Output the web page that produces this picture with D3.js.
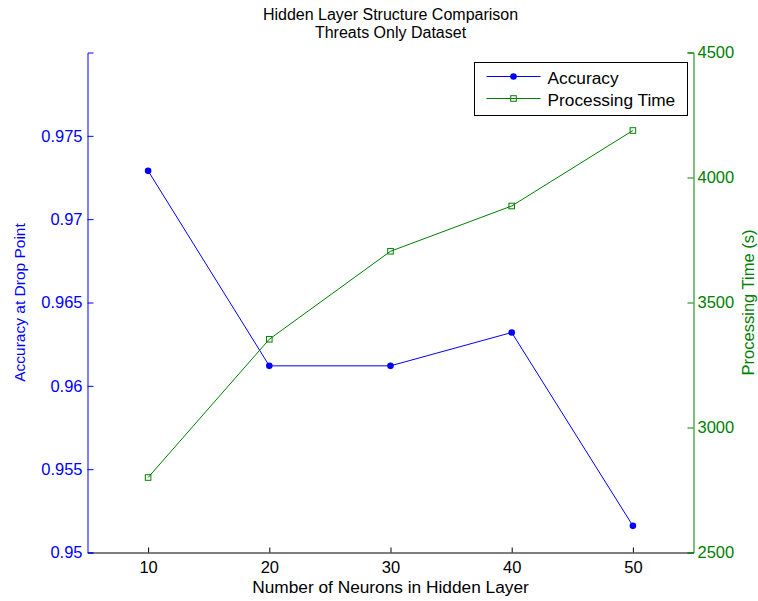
<!DOCTYPE html>
<html>
<head>
<meta charset="utf-8">
<script src="https://cdn.jsdelivr.net/npm/d3@7"></script>
<style>
  html, body { margin: 0; padding: 0; background: #fff; }
  svg { display: block; font-family: "Liberation Sans", Arial, sans-serif; }
</style>
</head>
<body>
<svg id="chart" width="758" height="601"></svg>
<script>
// Hidden layer sizes tested
const neurons = [10, 20, 30, 40, 50];
// Accuracy at the drop point for each hidden layer size
const accuracy = [0.9729, 0.9612, 0.9612, 0.9632, 0.9516];
// Processing time in seconds for each hidden layer size
const procTime = [2800, 3353, 3705, 3886, 4188];

const xTicks = [10, 20, 30, 40, 50];
const accTicks = [0.95, 0.955, 0.96, 0.965, 0.97, 0.975];
const accTickLabels = ["0.95", "0.955", "0.96", "0.965", "0.97", "0.975"];
const timeTicks = [2500, 3000, 3500, 4000, 4500];

const titleLines = ["Hidden Layer Structure Comparison", "Threats Only Dataset"];
const xLabel = "Number of Neurons in Hidden Layer";
const yLeftLabel = "Accuracy at Drop Point";
const yRightLabel = "Processing Time (s)";
const legendLabels = ["Accuracy", "Processing Time"];

const BLUE = "#0000ff", GREEN = "#008000";
const plot = { left: 87.5, right: 693.5, top: 52.5, bottom: 552.5 };

const svg = d3.select("#chart");

const x = d3.scaleLinear().domain([5, 55]).range([plot.left, plot.right]);
const yAcc = d3.scaleLinear().domain([0.95, 0.98]).range([plot.bottom, plot.top]);
const yTime = d3.scaleLinear().domain([2500, 4500]).range([plot.bottom, plot.top]);

// Bottom axis (black, ticks pointing up into the plot)
const gx = svg.append("g")
  .attr("transform", `translate(0,${plot.bottom})`)
  .call(d3.axisBottom(x).tickValues(xTicks).tickFormat(d3.format("d"))
    .tickSizeInner(-5).tickSizeOuter(0).tickPadding(9));
gx.select(".domain").attr("stroke", "#000");
gx.selectAll(".tick line").attr("stroke", "#000");
gx.selectAll("text").attr("fill", "#000").style("font-size", "16.5px");

// Left axis (blue)
const gl = svg.append("g")
  .attr("transform", `translate(${plot.left},0)`)
  .call(d3.axisLeft(yAcc).tickValues(accTicks)
    .tickFormat((d, i) => accTickLabels[i])
    .tickSizeInner(-6).tickSizeOuter(-6).tickPadding(5));
gl.select(".domain").attr("stroke", BLUE);
gl.selectAll(".tick line").attr("stroke", BLUE);
gl.selectAll("text").attr("fill", BLUE).style("font-size", "16.5px");

// Right axis (green)
const gr = svg.append("g")
  .attr("transform", `translate(${plot.right},0)`)
  .call(d3.axisRight(yTime).tickValues(timeTicks).tickFormat(d3.format("d"))
    .tickSizeInner(-6).tickSizeOuter(-6).tickPadding(4));
gr.select(".domain").attr("stroke", GREEN);
gr.selectAll(".tick line").attr("stroke", GREEN);
gr.selectAll("text").attr("fill", GREEN).style("font-size", "16.5px");

// Title, two lines
svg.append("g").selectAll("text").data(titleLines).join("text")
  .attr("x", (plot.left + plot.right) / 2)
  .attr("y", (d, i) => i === 0 ? 20 : 38)
  .attr("text-anchor", "middle").style("font-size", "16px").attr("fill", "#000")
  .text(d => d);

// Axis labels
svg.append("text")
  .attr("x", (plot.left + plot.right) / 2).attr("y", 593)
  .attr("text-anchor", "middle").style("font-size", "17.3px").attr("fill", "#000")
  .text(xLabel);

svg.append("text")
  .attr("transform", `translate(25,${(plot.top + plot.bottom) / 2}) rotate(-90)`)
  .attr("text-anchor", "middle").style("font-size", "15.5px").attr("fill", BLUE)
  .text(yLeftLabel);

svg.append("text")
  .attr("transform", `translate(754,${(plot.top + plot.bottom) / 2}) rotate(-90)`)
  .attr("text-anchor", "middle").style("font-size", "16.5px").attr("fill", GREEN)
  .text(yRightLabel);

// Series lines
const accData = neurons.map((n, i) => [n, accuracy[i]]);
const timeData = neurons.map((n, i) => [n, procTime[i]]);

svg.append("path").datum(accData)
  .attr("fill", "none").attr("stroke", BLUE).attr("stroke-width", 1)
  .attr("d", d3.line().x(d => x(d[0])).y(d => yAcc(d[1])));
svg.selectAll(".acc-dot").data(accData).join("circle")
  .attr("class", "acc-dot")
  .attr("cx", d => x(d[0])).attr("cy", d => yAcc(d[1])).attr("r", 3.3)
  .attr("fill", BLUE);

svg.append("path").datum(timeData)
  .attr("fill", "none").attr("stroke", GREEN).attr("stroke-width", 1)
  .attr("d", d3.line().x(d => x(d[0])).y(d => yTime(d[1])));
svg.selectAll(".time-sq").data(timeData).join("rect")
  .attr("class", "time-sq")
  .attr("x", d => x(d[0]) - 2.8).attr("y", d => yTime(d[1]) - 2.8)
  .attr("width", 5.6).attr("height", 5.6)
  .attr("fill", "none").attr("stroke", GREEN).attr("stroke-width", 1);

// Legend
const lg = svg.append("g").attr("transform", "translate(474.5,62.5)");
lg.append("rect").attr("width", 213).attr("height", 53)
  .attr("fill", "#fff").attr("stroke", "#000").attr("stroke-width", 1);
const legendItems = [
  { label: legendLabels[0], color: BLUE, marker: "circle", y: 14 },
  { label: legendLabels[1], color: GREEN, marker: "square", y: 36 }
];
legendItems.forEach(it => {
  lg.append("line").attr("x1", 12).attr("x2", 66).attr("y1", it.y).attr("y2", it.y)
    .attr("stroke", it.color).attr("stroke-width", 1);
  if (it.marker === "circle") {
    lg.append("circle").attr("cx", 39).attr("cy", it.y).attr("r", 3.3).attr("fill", it.color);
  } else {
    lg.append("rect").attr("x", 36.2).attr("y", it.y - 2.8).attr("width", 5.6).attr("height", 5.6)
      .attr("fill", "none").attr("stroke", it.color);
  }
  lg.append("text").attr("x", 73).attr("y", it.y).attr("dy", "0.45em")
    .style("font-size", "17.3px").attr("fill", "#000").text(it.label);
});
</script>
</body>
</html>
